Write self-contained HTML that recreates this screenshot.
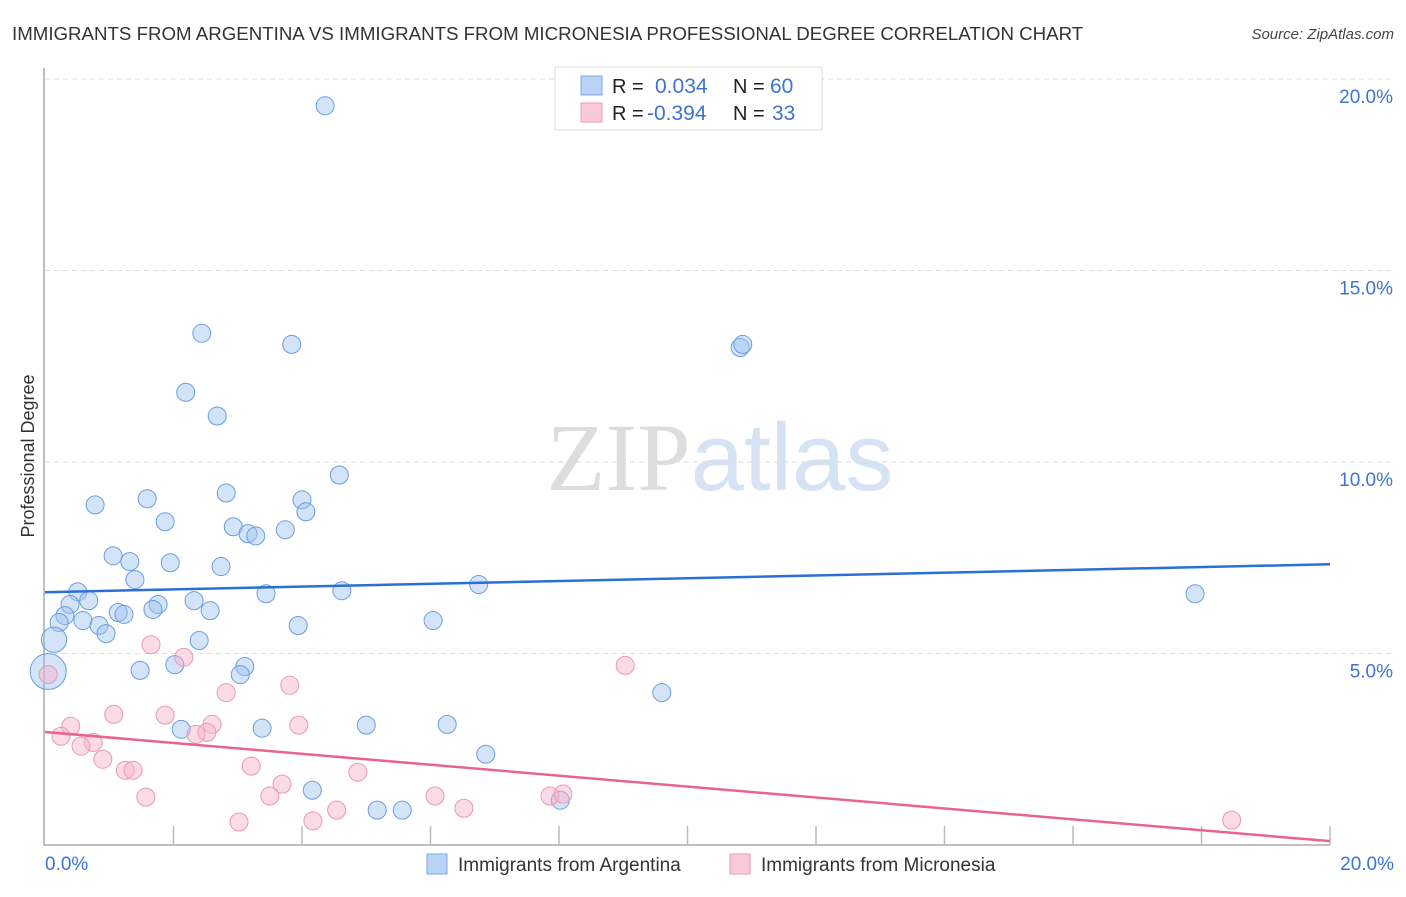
<!DOCTYPE html>
<html><head><meta charset="utf-8"><style>
body{margin:0;background:#fff;font-family:"Liberation Sans",sans-serif;}
svg text{font-family:"Liberation Sans",sans-serif;}
</style></head><body>
<svg id="chart" width="1406" height="892" xmlns="http://www.w3.org/2000/svg">
<text x="12" y="40" font-size="18.7" fill="#333">IMMIGRANTS FROM ARGENTINA VS IMMIGRANTS FROM MICRONESIA PROFESSIONAL DEGREE CORRELATION CHART</text>
<text x="1394" y="39" font-size="15" fill="#444" font-style="italic" text-anchor="end">Source: ZipAtlas.com</text>
<text x="720" y="490" font-size="96" text-anchor="middle"><tspan fill="#ddd" font-family="Liberation Serif">ZIP</tspan><tspan fill="#d6e3f5">atlas</tspan></text>
<text transform="translate(34,456) rotate(-90)" font-size="18" fill="#333" text-anchor="middle">Professional Degree</text>
<g id="grid"></g><g id="axes"></g><g id="points"></g><g id="trends"></g>
<g>
<rect x="555" y="67" width="267" height="63" fill="#fff" stroke="#ddd"/>
<rect x="581" y="76" width="21" height="19" fill="#b9d3f5" stroke="#7aa7e6"/>
<text x="612" y="93" font-size="20" fill="#222">R =</text><text x="655" y="93" font-size="21" fill="#3b74d1">0.034</text>
<text x="733" y="93" font-size="20" fill="#222">N =</text><text x="770" y="93" font-size="21" fill="#3b74d1">60</text>
<rect x="581" y="103" width="21" height="19" fill="#f9c9d7" stroke="#ee9bb5"/>
<text x="612" y="120" font-size="20" fill="#222">R =</text><text x="647" y="120" font-size="21" fill="#3b74d1">-0.394</text>
<text x="733" y="120" font-size="20" fill="#222">N =</text><text x="772" y="120" font-size="21" fill="#3b74d1">33</text>
</g>
<g>
<rect x="427" y="854" width="20" height="20" fill="#b9d3f5" stroke="#7aa7e6"/>
<text x="458" y="871" font-size="19" fill="#333">Immigrants from Argentina</text>
<rect x="730" y="854" width="20" height="20" fill="#f9c9d7" stroke="#ee9bb5"/>
<text x="761" y="871" font-size="19" fill="#333">Immigrants from Micronesia</text>
</g>
</svg>
<script>
const yTicks=[5,10,15,20];
const yTickLabels=["5.0%","10.0%","15.0%","20.0%"];
const argX=[4.36,2.44,3.84,10.82,10.86,2.19,2.68,4.58,0.78,1.59,2.82,4.00,4.06,1.87,2.93,3.16,3.28,3.74,1.06,1.32,1.95,2.74,1.40,0.51,6.75,4.62,3.44,0.68,0.39,1.76,2.32,1.68,2.57,1.14,1.23,0.31,0.22,0.59,0.84,3.94,6.04,0.95,2.40,0.14,2.02,3.11,3.04,1.48,0.05,9.60,2.12,3.38,5.00,6.26,6.86,4.16,5.17,5.56,8.02,17.90];
const argY=[19.30,13.36,13.07,12.99,13.07,11.82,11.20,9.66,8.88,9.04,9.19,9.01,8.70,8.44,8.31,8.13,8.07,8.23,7.55,7.40,7.37,7.27,6.93,6.61,6.80,6.64,6.56,6.38,6.28,6.28,6.38,6.15,6.12,6.07,6.02,5.99,5.81,5.86,5.73,5.73,5.86,5.52,5.34,5.36,4.71,4.66,4.45,4.56,4.53,3.98,3.02,3.05,3.13,3.15,2.37,1.43,0.91,0.91,1.17,6.56];
const argSize=[1,1,1,1,1,1,1,1,1,1,1,1,1,1,1,1,1,1,1,1,1,1,1,1,1,1,1,1,1,1,1,1,1,1,1,1,1,1,1,1,1,1,1,1.4,1,1,1,1,2,1,1,1,1,1,1,1,1,1,1,1];
const micX=[1.65,2.16,9.03,2.82,3.81,1.07,1.87,0.40,2.60,3.95,0.25,0.75,2.52,2.35,0.56,0.90,3.21,1.25,1.37,4.87,3.69,1.57,3.50,6.07,7.86,8.06,6.52,4.54,3.02,4.17,18.47,0.05];
const micY=[5.23,4.90,4.69,3.98,4.17,3.41,3.39,3.10,3.15,3.13,2.84,2.68,2.94,2.89,2.58,2.24,2.06,1.95,1.95,1.90,1.59,1.25,1.28,1.28,1.28,1.33,0.96,0.91,0.60,0.63,0.65,4.45];
const argTrend=[6.6,7.33];
const micTrend=[2.95,0.1];
const X0=45,X1=1330,Y0=845,Y1=79;
const sx=v=>X0+v/20*(X1-X0), sy=v=>Y0-v/20*(Y0-Y1);
const NS="http://www.w3.org/2000/svg";
function mk(t,a,p){const e=document.createElementNS(NS,t);for(const k in a)e.setAttribute(k,a[k]);p.appendChild(e);return e;}
const grid=document.getElementById('grid'),axes=document.getElementById('axes'),pts=document.getElementById('points'),tr=document.getElementById('trends');
yTicks.forEach((v,i)=>{
 const l=mk('line',{x1:X0,x2:1394,y1:sy(v),y2:sy(v),stroke:'#ddd','stroke-dasharray':'5,4'},grid);
 
 
 const t=mk('text',{x:1393,y:sy(v)+24,'font-size':19,fill:'#3b74d1','text-anchor':'end'},grid);
 t.textContent=yTickLabels[i];
 
 
});
const ax=mk('path',{d:`M${X0-1},68 V${Y0} H${X1}`,fill:'none',stroke:'#aaa','stroke-width':1.5},axes);


for(let i=1;i<=10;i++){
 const tk=mk('line',{x1:sx(i*2),x2:sx(i*2),y1:Y0-19,y2:Y0,stroke:'#bbb','stroke-width':1.5},axes);
 
 
}
[[0,'0.0%','start',45],[20,'20.0%','end',1394]].forEach(a=>{
 const t=mk('text',{x:a[3],y:870,'font-size':19,fill:'#3b74d1','text-anchor':a[2]},axes);
 t.textContent=a[1];
 
 
});
argX.forEach((x,i)=>{
 const c=mk('circle',{cx:sx(x),cy:sy(argY[i]),r:9*argSize[i],fill:'rgba(160,196,240,0.45)',stroke:'#6a9de0','stroke-width':1},pts);
 
 
});
micX.forEach((x,i)=>{
 const c=mk('circle',{cx:sx(x),cy:sy(micY[i]),r:9,fill:'rgba(246,178,200,0.45)',stroke:'#ec97b2','stroke-width':1},pts);
 
 
});
const t1=mk('line',{x1:sx(0),x2:sx(20),y1:sy(argTrend[0]),y2:sy(argTrend[1]),stroke:'#2a6fd6','stroke-width':2.5},tr);


const t2=mk('line',{x1:sx(0),x2:sx(20),y1:sy(micTrend[0]),y2:sy(micTrend[1]),stroke:'#e8648f','stroke-width':2.5},tr);


</script>
</body></html>
